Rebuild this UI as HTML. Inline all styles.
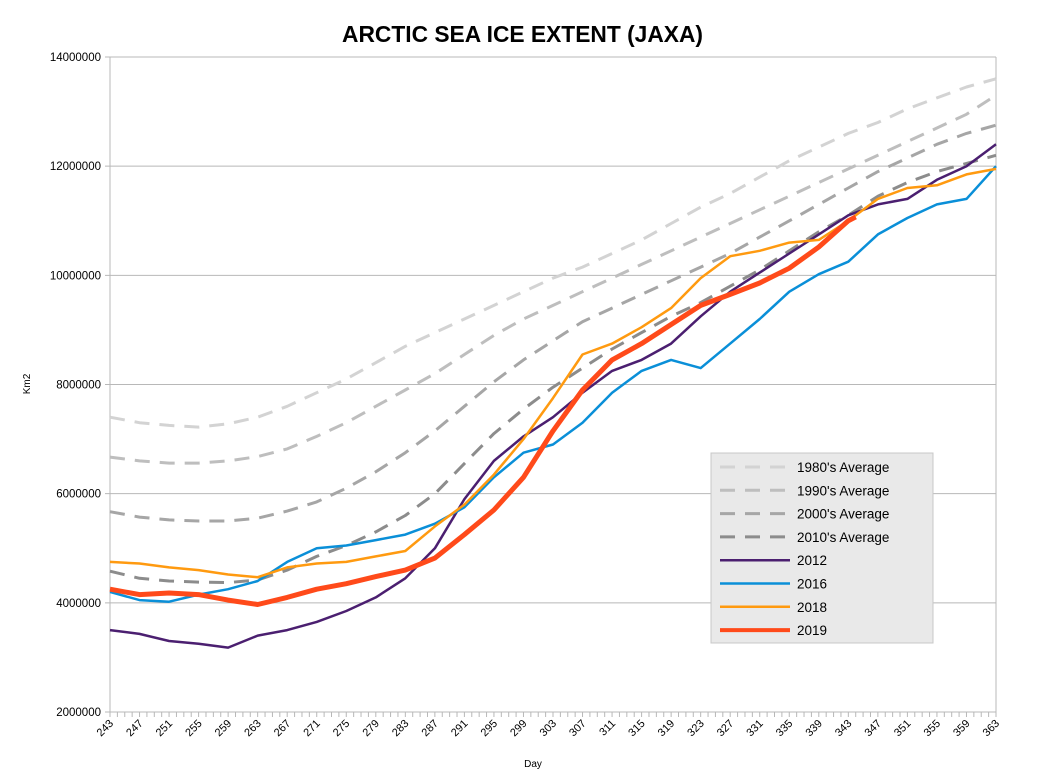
<!DOCTYPE html>
<html><head><meta charset="utf-8"><style>
body{margin:0;background:#fff;}
svg{display:block;font-family:"Liberation Sans",sans-serif;}
</style></head><body>
<svg id="chart" width="1038" height="773">
<text x="342" y="42" textLength="361" lengthAdjust="spacingAndGlyphs" font-size="23" font-weight="bold">ARCTIC SEA ICE EXTENT (JAXA)</text>
<text transform="translate(30,384) rotate(-90)" text-anchor="middle" font-size="10">Km2</text>
<text x="533" y="767" text-anchor="middle" font-size="10">Day</text>
<g id="grid"></g><g id="axes"></g><g id="series"></g><g id="legend"></g>
</svg>
<script>
const days=[243,247,251,255,259,263,267,271,275,279,283,287,291,295,299,303,307,311,315,319,323,327,331,335,339,343,347,351,355,359,363];
const yTicks=[2000000,4000000,6000000,8000000,10000000,12000000,14000000];
const xTickLabels=[243,247,251,255,259,263,267,271,275,279,283,287,291,295,299,303,307,311,315,319,323,327,331,335,339,343,347,351,355,359,363];
const avg1980=[7.4,7.3,7.25,7.22,7.28,7.4,7.6,7.85,8.1,8.4,8.7,8.95,9.2,9.45,9.7,9.95,10.15,10.4,10.65,10.95,11.25,11.5,11.8,12.1,12.35,12.6,12.8,13.05,13.25,13.45,13.6];
const avg1990=[6.67,6.6,6.56,6.56,6.6,6.68,6.82,7.05,7.3,7.6,7.9,8.2,8.55,8.9,9.2,9.45,9.7,9.95,10.2,10.45,10.7,10.95,11.2,11.45,11.7,11.95,12.2,12.45,12.7,12.95,13.3];
const avg2000=[5.67,5.57,5.52,5.5,5.5,5.55,5.68,5.85,6.1,6.4,6.75,7.15,7.6,8.05,8.45,8.8,9.15,9.4,9.65,9.9,10.15,10.4,10.7,11.0,11.3,11.6,11.9,12.15,12.4,12.6,12.75];
const avg2010=[4.58,4.45,4.4,4.38,4.37,4.42,4.6,4.85,5.05,5.3,5.6,6.0,6.55,7.1,7.55,7.95,8.3,8.65,8.95,9.25,9.5,9.8,10.1,10.45,10.8,11.1,11.45,11.7,11.9,12.05,12.2];
const y2012=[3.5,3.43,3.3,3.25,3.18,3.4,3.5,3.65,3.85,4.1,4.45,5.0,5.9,6.6,7.05,7.4,7.85,8.25,8.45,8.75,9.25,9.7,10.05,10.4,10.75,11.1,11.3,11.4,11.75,12.0,12.4];
const y2016=[4.2,4.05,4.02,4.15,4.25,4.4,4.75,5.0,5.05,5.15,5.25,5.45,5.75,6.3,6.75,6.9,7.3,7.85,8.25,8.45,8.3,8.75,9.2,9.7,10.02,10.25,10.75,11.05,11.3,11.4,12.0];
const y2018=[4.75,4.72,4.65,4.6,4.52,4.47,4.65,4.72,4.75,4.85,4.95,5.4,5.8,6.35,7.0,7.75,8.55,8.75,9.05,9.4,9.95,10.35,10.45,10.6,10.65,11.0,11.4,11.6,11.65,11.85,11.95];
const days2019=[243,247,251,255,259,263,267,271,275,279,283,287,291,295,299,303,307,311,315,319,323,327,331,335,339,343,344];
const y2019=[4.25,4.15,4.18,4.15,4.05,3.97,4.1,4.25,4.35,4.48,4.6,4.82,5.25,5.7,6.3,7.15,7.9,8.45,8.75,9.1,9.45,9.65,9.86,10.13,10.52,11.0,11.07];
const seriesNames=["1980's Average","1990's Average","2000's Average","2010's Average","2012","2016","2018","2019"];

const NS="http://www.w3.org/2000/svg";
const X0=110,X1=996,Y0=712,Y1=57,DMIN=243,DMAX=363,VMIN=2,VMAX=14;
const xs=d=>X0+(d-DMIN)*(X1-X0)/(DMAX-DMIN);
const ys=v=>Y0-(v-VMIN)*(Y0-Y1)/(VMAX-VMIN);
function mk(tag,attrs,parent){const e=document.createElementNS(NS,tag);for(const k in attrs)e.setAttribute(k,attrs[k]);parent.appendChild(e);return e;}
const grid=document.getElementById('grid'),axes=document.getElementById('axes'),ser=document.getElementById('series'),leg=document.getElementById('legend');
yTicks.forEach(t=>{const y=ys(t/1e6);
 const l=mk('line',{x1:X0-5,x2:X1,y1:y,y2:y,stroke:'#b8b8b8','stroke-width':1},grid);
 
 
 const tx=mk('text',{x:X0-9,y:y+4,'text-anchor':'end','font-size':11.5},axes);tx.textContent=t;
 
 
});
mk('line',{x1:X0,x2:X0,y1:Y1,y2:Y0+5,stroke:'#b8b8b8'},axes);
mk('line',{x1:X1,x2:X1,y1:Y1,y2:Y0+5,stroke:'#b8b8b8'},axes);
for(let d=DMIN;d<=DMAX;d++){const x=xs(d);mk('line',{x1:x,x2:x,y1:Y0,y2:Y0+5,stroke:'#b8b8b8'},axes);}
xTickLabels.forEach(d=>{const x=xs(d);
 const t=mk('text',{transform:`translate(${x+4},${Y0+12}) rotate(-45)`,'text-anchor':'end','font-size':11},axes);t.textContent=d;
 
 
});
function path(dd,vals){return vals.map((v,i)=>(i?'L':'M')+xs(dd[i]).toFixed(1)+','+ys(v).toFixed(1)).join('');}
const styles=[
 {c:'#d3d3d3',w:3,dash:'15,10'},{c:'#bebebe',w:3,dash:'15,10'},{c:'#a6a6a6',w:3,dash:'15,10'},{c:'#8c8c8c',w:3,dash:'15,10'},
 {c:'#4b1f70',w:2.5},{c:'#0a8fd8',w:2.5},{c:'#ff9a10',w:2.5},{c:'#ff4a1a',w:5}];
const allData=[[days,avg1980],[days,avg1990],[days,avg2000],[days,avg2010],[days,y2012],[days,y2016],[days,y2018],[days2019,y2019]];
const names=['series-1980s-avg','series-1990s-avg','series-2000s-avg','series-2010s-avg','series-2012','series-2016','series-2018','series-2019'];
allData.forEach((s,i)=>{const st=styles[i];
 const p=mk('path',{d:path(s[0],s[1]),fill:'none',stroke:st.c,'stroke-width':st.w,'stroke-linejoin':'round'},ser);
 if(st.dash)p.setAttribute('stroke-dasharray',st.dash);
 
 
});
const lb=mk('rect',{x:711,y:453,width:222,height:190,fill:'#e9e9e9',stroke:'#c8c8c8'},leg);


seriesNames.forEach((n,i)=>{const y=467+i*23.3,st=styles[i];
 const l=mk('line',{x1:720,x2:790,y1:y,y2:y,stroke:st.c,'stroke-width':st.w===5?4:st.w},leg);
 if(st.dash)l.setAttribute('stroke-dasharray','15,10');
 const t=mk('text',{x:797,y:y+5,'font-size':13.5},leg);t.textContent=n;
 
 
});
</script>
</body></html>
